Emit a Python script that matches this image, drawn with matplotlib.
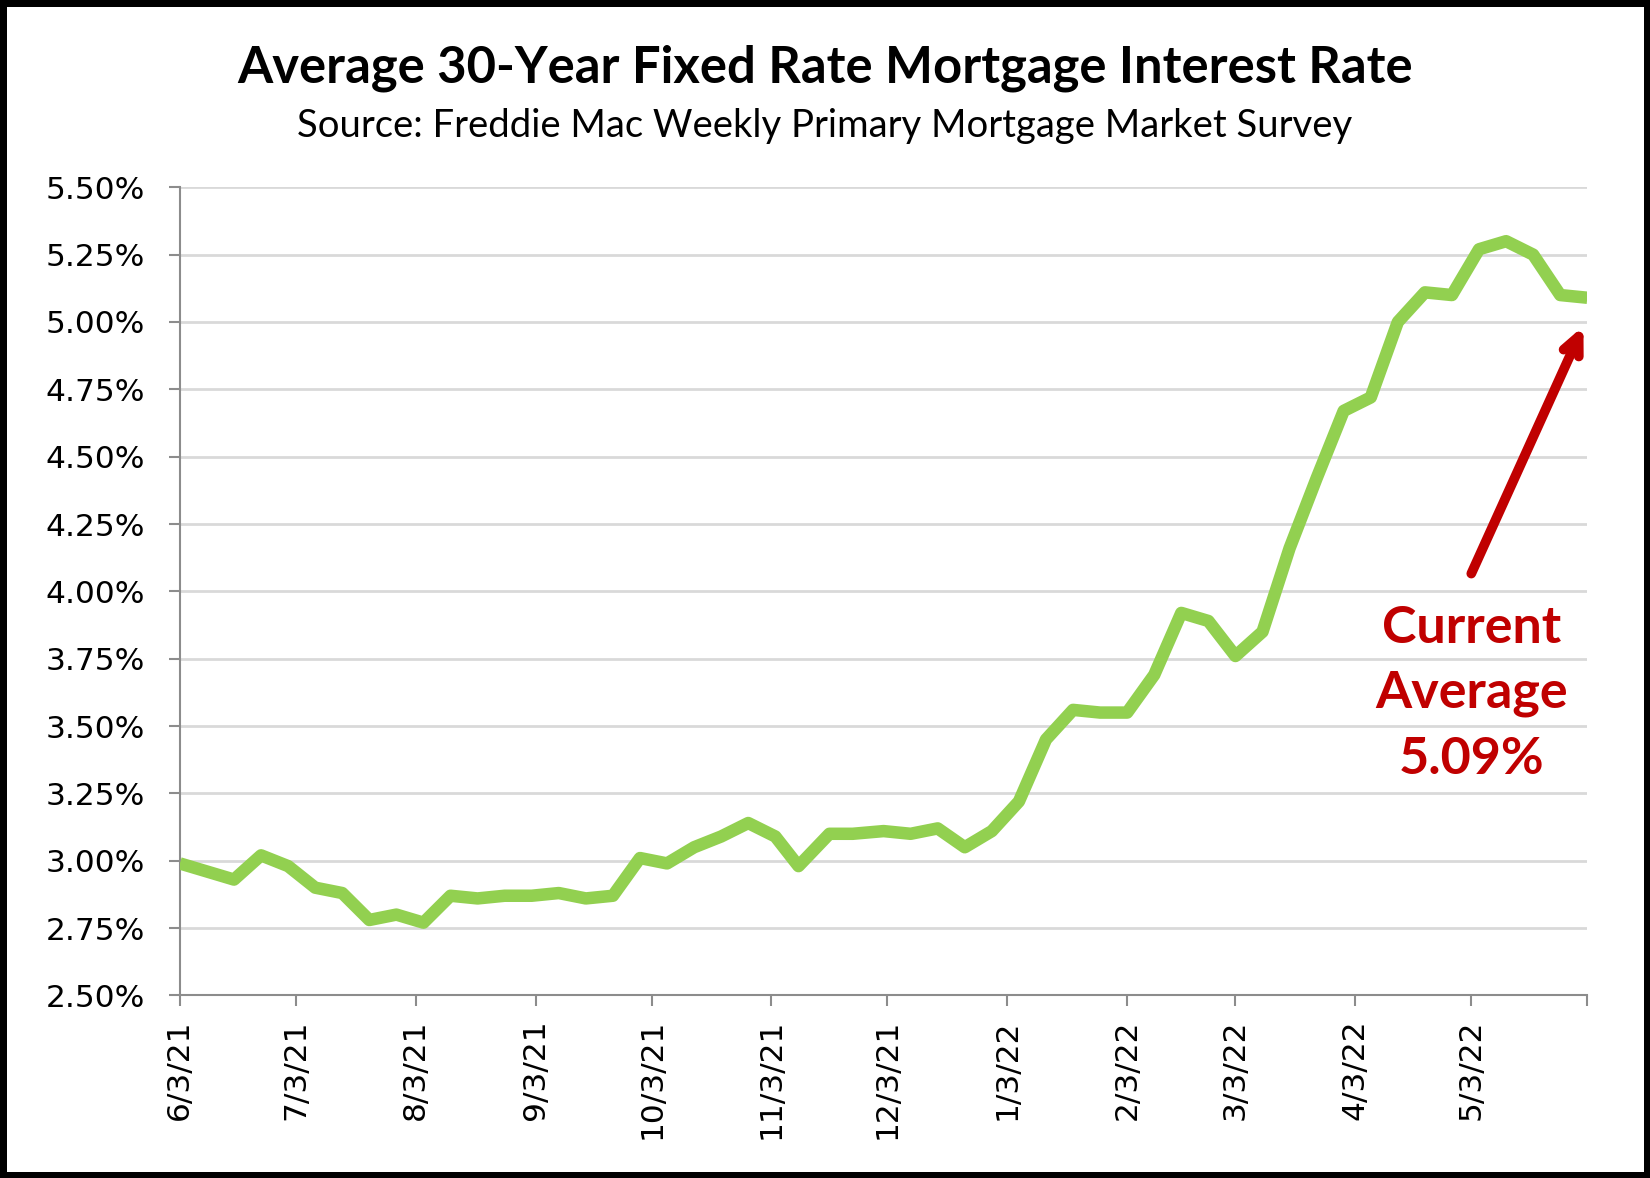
import datetime as dt
import matplotlib
matplotlib.use("Agg")
import matplotlib.pyplot as plt
from matplotlib.ticker import FuncFormatter

# weekly Freddie Mac PMMS readings, 6/3/21 - 6/2/22
dates = ["2021-06-03", "2021-06-10", "2021-06-17", "2021-06-24", "2021-07-01",
         "2021-07-08", "2021-07-15", "2021-07-22", "2021-07-29", "2021-08-05",
         "2021-08-12", "2021-08-19", "2021-08-26", "2021-09-02", "2021-09-09",
         "2021-09-16", "2021-09-23", "2021-09-30", "2021-10-07", "2021-10-14",
         "2021-10-21", "2021-10-28", "2021-11-04", "2021-11-10", "2021-11-18",
         "2021-11-24", "2021-12-02", "2021-12-09", "2021-12-16", "2021-12-23",
         "2021-12-30", "2022-01-06", "2022-01-13", "2022-01-20", "2022-01-27",
         "2022-02-03", "2022-02-10", "2022-02-17", "2022-02-24", "2022-03-03",
         "2022-03-10", "2022-03-17", "2022-03-24", "2022-03-31", "2022-04-07",
         "2022-04-14", "2022-04-21", "2022-04-28", "2022-05-05", "2022-05-12",
         "2022-05-19", "2022-05-26", "2022-06-02"]
rates = [2.99, 2.96, 2.93, 3.02, 2.98, 2.90, 2.88, 2.78, 2.80, 2.77,
         2.87, 2.86, 2.87, 2.87, 2.88, 2.86, 2.87, 3.01, 2.99, 3.05,
         3.09, 3.14, 3.09, 2.98, 3.10, 3.10, 3.11, 3.10, 3.12, 3.05,
         3.11, 3.22, 3.45, 3.56, 3.55, 3.55, 3.69, 3.92, 3.89, 3.76,
         3.85, 4.16, 4.42, 4.67, 4.72, 5.00, 5.11, 5.10, 5.27, 5.30,
         5.25, 5.10, 5.09]
tick_dates = ["2021-06-03", "2021-07-03", "2021-08-03", "2021-09-03", "2021-10-03",
              "2021-11-03", "2021-12-03", "2022-01-03", "2022-02-03", "2022-03-03",
              "2022-04-03", "2022-05-03"]
tick_labels = ["6/3/21", "7/3/21", "8/3/21", "9/3/21", "10/3/21", "11/3/21",
               "12/3/21", "1/3/22", "2/3/22", "3/3/22", "4/3/22", "5/3/22"]
current = 5.09

x = [dt.datetime.strptime(d, "%Y-%m-%d") for d in dates]
xt = [dt.datetime.strptime(d, "%Y-%m-%d") for d in tick_dates]

fig = plt.figure(figsize=(16.5, 11.78), dpi=100, linewidth=8, edgecolor="black")
ax = fig.add_axes([0.109, 0.155, 0.853, 0.686])

ax.plot(x, rates, color="#92D050", lw=9, solid_joinstyle="round",
        solid_capstyle="butt", zorder=3)

ax.set_xlim(x[0], x[-1])
ax.set_ylim(2.5, 5.5)
ax.set_yticks([2.5 + 0.25 * i for i in range(13)])
ax.yaxis.set_major_formatter(FuncFormatter(lambda v, p: f"{v:.2f}%"))
ax.set_xticks(xt)
ax.set_xticklabels(tick_labels, rotation=90)
ax.set_xticks([x[-1]], minor=True)

ax.grid(axis="y", color="#D9D9D9", lw=2)
ax.set_axisbelow(True)
for s in ["top", "right"]:
    ax.spines[s].set_visible(False)
for s in ["left", "bottom"]:
    ax.spines[s].set_color("#8C8C8C")
    ax.spines[s].set_linewidth(1.5)
ax.tick_params(axis="y", length=8, width=1.5, color="#8C8C8C", pad=17,
               labelsize=22.5)
ax.tick_params(axis="x", which="both", length=8, width=1.5, color="#8C8C8C",
               pad=9, labelsize=22.5)

fig.text(0.5, 0.942, "Average 30-Year Fixed Rate Mortgage Interest Rate",
         ha="center", va="center", fontsize=36.5, fontweight="bold", family="Lato")
fig.text(0.5, 0.893, "Source: Freddie Mac Weekly Primary Mortgage Market Survey",
         ha="center", va="center", fontsize=27.5, family="Lato")

red = "#C00000"
ax.annotate("", xy=(dt.datetime(2022, 6, 1), 4.985),
            xytext=(dt.datetime(2022, 5, 3), 4.066),
            arrowprops=dict(arrowstyle="->,head_length=1.3,head_width=0.6",
                            color=red, lw=7, shrinkA=0, shrinkB=0))
ax.text(dt.datetime(2022, 5, 3), 3.62, f"Current\nAverage\n{current:.2f}%",
        ha="center", va="center", color=red, fontsize=37.5, fontweight="bold",
        family="Lato", linespacing=1.48)

fig.savefig("out.png", dpi=100, edgecolor=fig.get_edgecolor())
